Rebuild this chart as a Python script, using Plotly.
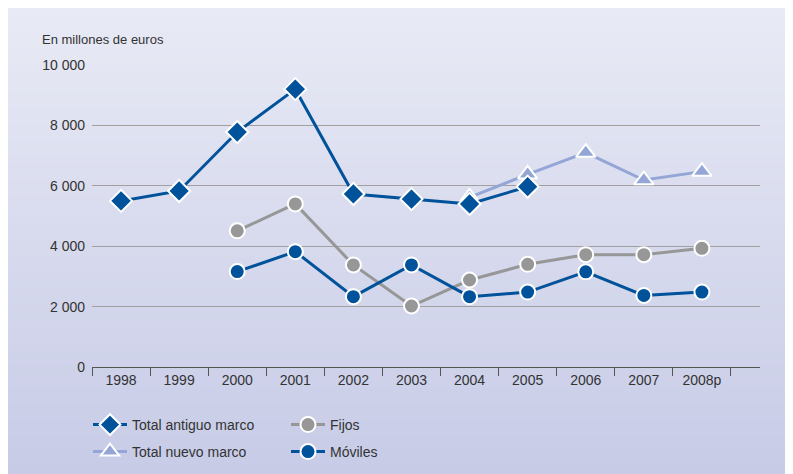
import plotly.graph_objects as go

years = ["1998", "1999", "2000", "2001", "2002", "2003", "2004", "2005", "2006", "2007", "2008p"]

total_antiguo = [5500, 5830, 7780, 9200, 5730, 5560, 5400, 5970, None, None, None]
total_nuevo = [None, None, None, None, None, None, 5620, 6380, 7100, 6190, 6470]
fijos = [None, None, 4510, 5400, 3380, 2020, 2880, 3400, 3720, 3720, 3930]
moviles = [None, None, 3160, 3820, 2330, 3380, 2330, 2480, 3150, 2370, 2480]

y_ticks = [0, 2000, 4000, 6000, 8000, 10000]
y_labels = ["0", "2 000", "4 000", "6 000", "8 000", "10 000"]

dark_blue = "#00529b"
light_blue = "#93a6d6"
grey = "#979797"
font = "Liberation Sans, Arial, sans-serif"

W, H = 785, 466
L, R, T, B = 84, 33, 57, 107
pw, ph = W - L - R, H - T - B

fig = go.Figure()

def add_line(y, name, color, symbol, size, legend):
    fig.add_trace(go.Scatter(
        x=years, y=y, name=name, mode="lines+markers", legend=legend,
        line=dict(color=color, width=3),
        marker=dict(symbol=symbol, size=size, color=color, line=dict(color="white", width=2)),
        connectgaps=False, cliponaxis=False,
    ))

add_line(fijos, "Fijos", grey, "circle", 15, "legend2")
add_line(moviles, "Móviles", dark_blue, "circle", 15, "legend4")
add_line(total_nuevo, "Total nuevo marco", light_blue, "triangle-up", 17, "legend3")
add_line(total_antiguo, "Total antiguo marco", dark_blue, "diamond", 17, "legend")

# gradient background made of thin bands over the whole figure
n = 60
shapes = []
top = (232, 234, 245)
bot = (199, 203, 230)
for i in range(n):
    t = i / (n - 1)
    c = tuple(round(top[k] + (bot[k] - top[k]) * t) for k in range(3))
    py0 = H * i / n
    py1 = H * (i + 1) / n + 1
    shapes.append(dict(type="rect", xref="paper", yref="paper", layer="below",
                       x0=-L / pw, x1=(W - L) / pw,
                       y0=(T + ph - py0) / ph, y1=(T + ph - py1) / ph,
                       line=dict(width=0), fillcolor="rgb(%d,%d,%d)" % c))

def leg(xpx, ypx):
    return dict(xref="container", yref="container", x=xpx / W, y=1 - ypx / H,
                xanchor="left", yanchor="middle", orientation="v",
                bgcolor="rgba(0,0,0,0)", font=dict(size=14, family=font, color="#333333"),
                itemwidth=34)

fig.update_layout(
    width=W, height=H,
    margin=dict(l=L, r=R, t=T, b=B, autoexpand=False),
    paper_bgcolor="#d8dbee", plot_bgcolor="rgba(0,0,0,0)",
    font=dict(family=font, size=14, color="#333333"),
    shapes=shapes,
    showlegend=True,
    legend=leg(80, 417),
    legend3=leg(80, 444),
    legend2=leg(278, 417),
    legend4=leg(278, 444),
    annotations=[dict(text="En millones de euros", xref="paper", yref="paper",
                      x=(32 - L) / pw, y=(T + ph - 32) / ph, xanchor="left", yanchor="middle",
                      showarrow=False, font=dict(size=13, family=font, color="#333333"))],
)

fig.update_xaxes(
    type="category", range=[-0.5, 11.0], tickson="boundaries",
    ticks="outside", ticklen=8, tickcolor="#555555", tickwidth=1,
    showline=True, linecolor="#555555", linewidth=1,
    showgrid=False, zeroline=False, automargin=False, tickangle=0,
    tickfont=dict(size=14, family=font, color="#333333"),
)
fig.update_yaxes(
    range=[0, 10000], tickvals=y_ticks, ticktext=y_labels,
    showgrid=True, gridcolor="#a0a0a0", gridwidth=1, automargin=False,
    zeroline=False, showline=False, ticks="", ticklabelstandoff=6,
    tickfont=dict(size=14, family=font, color="#333333"),
)

fig.write_html("out.html")
